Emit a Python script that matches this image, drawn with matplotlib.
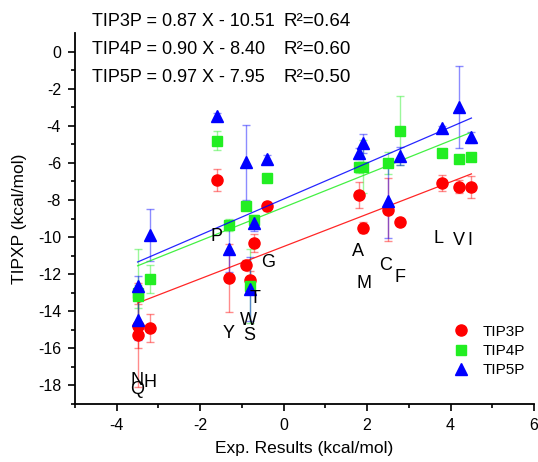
import numpy as np
import matplotlib
matplotlib.use('Agg')
import matplotlib.pyplot as plt

plt.rcParams['font.family'] = ['Liberation Sans', 'DejaVu Sans']
plt.rcParams['axes.unicode_minus'] = False

# ===== 数据 =====
exp_x = [-3.5, -3.5, -3.2, -1.6, -1.3, -0.9, -0.8, -0.7, -0.4, 1.8, 1.9, 2.5, 2.8, 3.8, 4.2, 4.5]

tip3p = [-14.8, -15.26, -14.9, -6.92, -12.2, -11.48, -12.32, -10.32, -8.35, -7.73, -9.49, -8.52, -9.19, -7.08, -7.30, -7.31]
tip3p_err = [1.2, 2.8, 0.76, 0.6, 1.85, 0.25, 0.5, 0.5, 0.25, 0.7, 0.3, 1.7, 0.1, 0.45, 0.35, 0.6]

tip4p = [-13.2, -13.04, -12.25, -4.81, -9.35, -8.3, -12.65, -9.1, -6.83, -6.25, -6.2, -6.0, -4.27, -5.49, -5.8, -5.68]
tip4p_err = [0.6, 2.4, 0.77, 0.5, 0.3, 0.2, 2.0, 0.3, 0.1, 0.3, 1.45, 0.6, 1.85, 0.1, 0.1, 0.1]

tip5p = [-14.45, -12.65, -9.9, -3.46, -10.66, -5.98, -12.8, -9.25, -5.8, -5.49, -4.95, -8.05, -5.62, -4.14, -3.0, -4.63]
tip5p_err = [1.1, 0.55, 1.4, 0.15, 1.2, 2.0, 1.7, 0.4, 0.2, 0.3, 0.5, 2.0, 0.5, 0.1, 2.2, 0.3]

# 拟合参数 (斜率, 截距, R2)
fits = {'TIP3P': (0.87, -10.51, 0.64), 'TIP4P': (0.90, -8.40, 0.60), 'TIP5P': (0.97, -7.95, 0.50)}

# 氨基酸标签
res_names = ['N', 'Q', 'H', 'P', 'Y', 'W', 'S', 'T', 'G', 'A', 'M', 'C', 'F', 'L', 'V', 'I']
res_lx = [-3.52, -3.52, -3.2, -1.6, -1.32, -0.85, -0.82, -0.68, -0.38, 1.78, 1.92, 2.45, 2.8, 3.72, 4.2, 4.47]
res_ly = [-17.75, -18.2, -17.85, -9.95, -15.2, -14.5, -15.3, -13.3, -11.35, -10.8, -12.5, -11.55, -12.2, -10.1, -10.2, -10.2]

series = [
    ('TIP3P', tip3p, tip3p_err, '#FF0000', 'o', 8),
    ('TIP4P', tip4p, tip4p_err, '#22EE22', 's', 6.5),
    ('TIP5P', tip5p, tip5p_err, '#0000FF', '^', 8),
]

fig = plt.figure(figsize=(5.38, 4.62), dpi=100)
ax = fig.add_axes([0.1394, 0.1255, 0.8532, 0.8031])

for name, ys, errs, c, m, ms in series:
    ax.errorbar(exp_x, ys, yerr=errs, fmt='none', ecolor=c, alpha=0.45,
                elinewidth=1, capsize=3, capthick=1)
for name, ys, errs, c, m, ms in series:
    ax.plot(exp_x, ys, linestyle='none', marker=m, color=c, markersize=ms, label=name)
    k, b, r2 = fits[name]
    xx = np.array([min(exp_x), max(exp_x)])
    ax.plot(xx, k*xx + b, color=c, lw=0.9, alpha=0.85)

for t, lx, ly in zip(res_names, res_lx, res_ly):
    ax.text(lx, ly, t, fontsize=13, ha='center', va='center')

# 拟合方程
for i, (name, (k, b, r2)) in enumerate(fits.items()):
    yy = 1.6 - 1.5*i
    ax.text(-4.6, yy, f'{name} = {k:.2f} X - {abs(b):.2f}', fontsize=13,
            va='center', ha='left', clip_on=False)
    ax.text(0.0, yy, f'R²={r2:.2f}', fontsize=13.5, va='center', ha='left', clip_on=False)

ax.set_xlim(-5, 6)
ax.set_ylim(-19, 1)
ax.set_xticks([-4, -2, 0, 2, 4, 6])
ax.set_xticks([-5, -3, -1, 1, 3, 5], minor=True)
ax.set_yticks(np.arange(-18, 1, 2))
ax.set_yticks(np.arange(-19, 1, 2), minor=True)
ax.spines['top'].set_visible(False)
ax.spines['right'].set_visible(False)
for s in ['left', 'bottom']:
    ax.spines[s].set_linewidth(1.3)
ax.tick_params(which='major', direction='out', length=5, width=1.2, labelsize=11.5, pad=5)
ax.tick_params(which='minor', direction='out', length=3, width=1.2)
ax.set_xlabel('Exp. Results (kcal/mol)', fontsize=12.5)
ax.set_ylabel('TIPXP (kcal/mol)', fontsize=12.5)
ax.xaxis.set_label_coords(0.5, -0.1)
ax.yaxis.set_label_coords(-0.105, 0.5)

ax.legend(loc='lower right', bbox_to_anchor=(1.01, 0.035), frameon=False, fontsize=11,
          handlelength=1.2, handletextpad=0.8, labelspacing=0.35)

plt.savefig('out.png', dpi=100)
plt.close()
